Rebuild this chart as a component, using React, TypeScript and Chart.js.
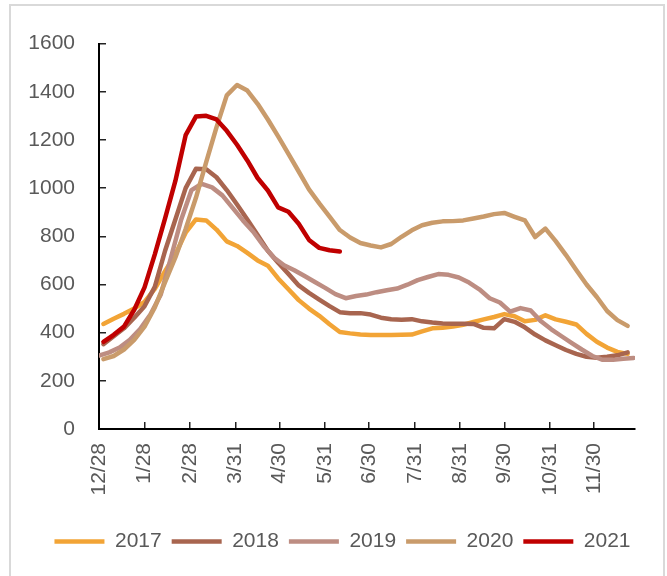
import { useEffect, useRef } from 'react';
import { Chart, registerables } from 'chart.js';

Chart.register(...registerables);

// x axis: days counted from 12/28
const TICK_DAYS = [0, 31, 62, 93, 123, 154, 184, 215, 246, 276, 307, 337];
const TICK_LABELS = ['12/28', '1/28', '2/28', '3/31', '4/30', '5/31', '6/30', '7/31', '8/31', '9/30', '10/31', '11/30'];

const SERIES_NAMES = ['2017', '2018', '2019', '2020', '2021'];
const START_DAYS = [3, 3, 0, 3, 3];

const V2017 = [436, 458, 478, 500, 528, 582, 655, 725, 815, 870, 866, 828, 779, 760, 731, 700, 678, 625, 580, 535, 500, 470, 435, 403, 397, 392, 390, 390, 390, 391, 392, 405, 418, 420, 425, 433, 444, 455, 465, 477, 468, 447, 453, 472, 455, 445, 434, 395, 362, 338, 320, 312];
const V2018 = [352, 385, 418, 462, 510, 590, 740, 870, 1000, 1080, 1078, 1045, 992, 932, 870, 805, 740, 690, 644, 596, 565, 537, 510, 485, 481, 481, 475, 462, 456, 454, 456, 447, 442, 438, 437, 437, 436, 420, 418, 456, 445, 422, 392, 368, 348, 328, 312, 300, 296, 300, 306, 318];
const V2019 = [305, 318, 338, 370, 415, 475, 557, 712, 870, 992, 1018, 1003, 970, 918, 866, 819, 761, 712, 680, 659, 635, 610, 586, 560, 543, 552, 558, 568, 576, 583, 599, 618, 631, 643, 640, 629, 608, 580, 543, 525, 487, 502, 492, 447, 414, 385, 357, 329, 303, 287, 287, 292, 295];
const V2020 = [290, 303, 330, 370, 425, 505, 610, 712, 830, 960, 1108, 1252, 1385, 1428, 1405, 1350, 1285, 1215, 1142, 1069, 995, 937, 882, 826, 795, 772, 762, 754, 768, 798, 825, 846, 856, 862, 863, 866, 874, 882, 892, 897, 881, 866, 797, 832, 780, 722, 660, 600, 548, 490, 452, 428];
const V2021 = [362, 391, 425, 495, 588, 725, 874, 1030, 1220, 1297, 1300, 1285, 1238, 1180, 1115, 1042, 990, 920, 902, 852, 785, 752, 742, 737];

const SERIES_VALUES = [V2017, V2018, V2019, V2020, V2021];
const COLORS = ['#F2A436', '#A8654F', '#BD8D82', '#C99B6B', '#C00000'];

const Y_MIN = 0;
const Y_MAX = 1600;
const Y_STEP = 200;

const FONT = { family: '"Liberation Sans", Arial, sans-serif', size: 21 };
const TEXT_COLOR = '#595959';

function toPoints(start: number, values: number[]) {
  return values.map((v, i) => ({ x: start + 7 * i, y: v }));
}

export default function App() {
  const canvasRef = useRef<HTMLCanvasElement | null>(null);

  useEffect(() => {
    if (!canvasRef.current) return;
    const chart = new Chart(canvasRef.current, {
      type: 'line',
      data: {
        datasets: SERIES_VALUES.map((vals, k) => ({
          label: SERIES_NAMES[k],
          data: toPoints(START_DAYS[k], vals),
          borderColor: COLORS[k],
          backgroundColor: COLORS[k],
          borderWidth: 4.5,
          pointRadius: 0,
          pointHoverRadius: 0,
          tension: 0,
          fill: false,
          borderCapStyle: 'round',
          borderJoinStyle: 'round',
          order: SERIES_VALUES.length - k,
        })),
      },
      options: {
        animation: false,
        responsive: false,
        maintainAspectRatio: false,
        events: [],
        layout: { padding: { left: 18, right: 0, top: 34, bottom: 14 } },
        plugins: {
          legend: {
            position: 'bottom',
            align: 'center',
            labels: {
              usePointStyle: true,
              pointStyle: 'line',
              pointStyleWidth: 50,
              padding: 10,
              color: TEXT_COLOR,
              font: FONT,
              sort: (a: any, b: any) => a.datasetIndex - b.datasetIndex,
            },
          },
          tooltip: { enabled: false },
        },
        scales: {
          x: {
            type: 'linear',
            min: 0,
            max: 365,
            afterBuildTicks: (s: any) => {
              s.ticks = TICK_DAYS.map((v) => ({ value: v }));
            },
            ticks: {
              autoSkip: false,
              minRotation: 90,
              maxRotation: 90,
              padding: 21,
              color: TEXT_COLOR,
              font: FONT,
              callback: (_v: any, i: number) => TICK_LABELS[i],
            },
            grid: { drawOnChartArea: false, tickLength: -7, color: '#222', lineWidth: 1.5 },
            border: { color: '#000', width: 2 },
            afterFit: (s: any) => {
              s.height = 92;
            },
          },
          y: {
            min: Y_MIN,
            max: Y_MAX,
            ticks: {
              stepSize: Y_STEP,
              padding: 31,
              color: TEXT_COLOR,
              font: FONT,
              callback: (v: any) => String(v),
            },
            grid: { drawOnChartArea: false, tickLength: -7, color: '#222', lineWidth: 1.5 },
            border: { color: '#000', width: 2 },
            afterFit: (s: any) => {
              s.width = 81;
            },
          },
          yR: {
            position: 'right',
            display: true,
            ticks: { display: false },
            grid: { display: false },
            border: { display: false },
            afterFit: (s: any) => {
              s.width = 32;
            },
          },
        },
      } as any,
    });
    return () => chart.destroy();
  }, []);

  return (
    <div style={{ position: 'absolute', left: 0, top: 0, width: 667, height: 576, overflow: 'hidden', background: '#fff' }}>
      <div
        style={{
          position: 'absolute',
          left: 9,
          top: 4,
          width: 656,
          height: 620,
          border: '2px solid #D9D9D9',
          boxSizing: 'border-box',
        }}
      />
      <canvas ref={canvasRef} width={667} height={576} style={{ position: 'absolute', left: 0, top: 0, display: 'block' }} />
    </div>
  );
}
